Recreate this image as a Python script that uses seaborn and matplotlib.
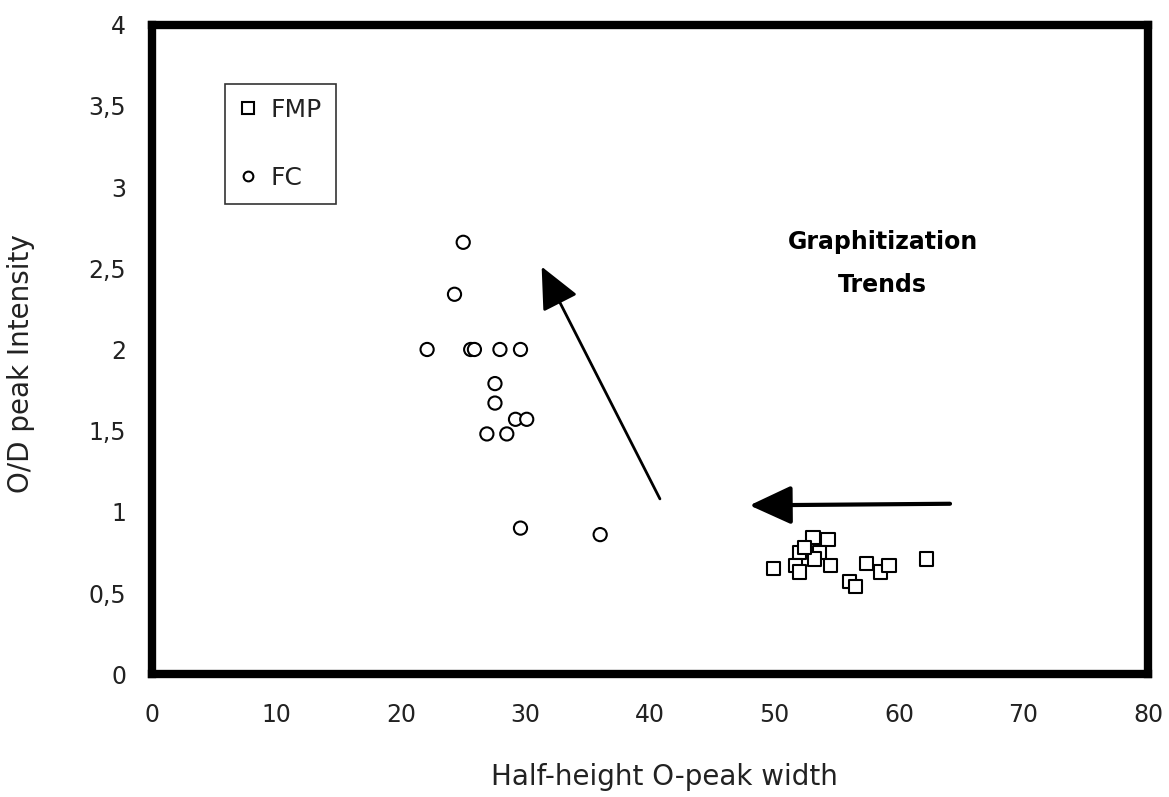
import numpy as np
import pandas as pd
import matplotlib
matplotlib.use("Agg")
import matplotlib.pyplot as plt
import seaborn as sns
from matplotlib.ticker import FixedLocator, FixedFormatter
from matplotlib.lines import Line2D

# FC samples (circles)
fc_width = [25.0, 24.3, 22.1, 25.6, 25.9, 27.95, 29.6, 27.55, 27.55, 29.2, 30.1, 26.9, 28.5, 29.6, 36.0]
fc_ratio = [2.66, 2.34, 2.00, 2.00, 2.00, 2.00, 2.00, 1.79, 1.67, 1.57, 1.57, 1.48, 1.48, 0.90, 0.86]

# FMP samples (squares)
fmp_width = [49.9, 53.1, 54.3, 52.0, 53.65, 53.2, 51.7, 52.0, 54.5, 57.4, 58.5, 59.2, 56.0, 56.5, 62.2, 52.4]
fmp_ratio = [0.65, 0.84, 0.83, 0.75, 0.75, 0.71, 0.67, 0.63, 0.67, 0.68, 0.63, 0.67, 0.57, 0.54, 0.71, 0.78]

x_ticks = [0, 10, 20, 30, 40, 50, 60, 70, 80]
x_tick_labels = ["0", "10", "20", "30", "40", "50", "60", "70", "80"]
y_ticks = [0, 0.5, 1, 1.5, 2, 2.5, 3, 3.5, 4]
y_tick_labels = ["0", "0,5", "1", "1,5", "2", "2,5", "3", "3,5", "4"]

df = pd.DataFrame({
    "width": fmp_width + fc_width,
    "ratio": fmp_ratio + fc_ratio,
    "group": ["FMP"] * len(fmp_width) + ["FC"] * len(fc_width),
})

sns.set_theme(style="white")
plt.rcParams["font.family"] = ["DejaVu Sans"]

fig = plt.figure(figsize=(11.69, 7.97), dpi=100)
ax = fig.add_axes([0.130, 0.154, 0.852, 0.815])

sns.scatterplot(
    data=df, x="width", y="ratio", hue="group", style="group",
    markers={"FMP": "s", "FC": "o"},
    palette={"FMP": "white", "FC": "white"},
    edgecolor="black", linewidth=1.5, s=90, ax=ax, legend=False,
)

ax.set_xlim(0, 80)
ax.set_ylim(0, 4)
ax.xaxis.set_major_locator(FixedLocator(x_ticks))
ax.xaxis.set_major_formatter(FixedFormatter(x_tick_labels))
ax.yaxis.set_major_locator(FixedLocator(y_ticks))
ax.yaxis.set_major_formatter(FixedFormatter(y_tick_labels))

for sp in ax.spines.values():
    sp.set_visible(True)
    sp.set_color("black")
    sp.set_linewidth(6)

ax.tick_params(axis="both", direction="inout", length=9, width=1.2, color="black",
               labelsize=17, labelcolor="#222222", pad=14)
ax.tick_params(axis="x", pad=16)

ax.set_xlabel("Half-height O-peak width", fontsize=20, color="#222222")
ax.set_ylabel("O/D peak Intensity", fontsize=20, color="#222222")
ax.xaxis.set_label_coords(0.515, -0.137)
ax.yaxis.set_label_coords(-0.117, 0.478)

# Graphitization trend arrows
ax.annotate("", xy=(31.3, 2.51), xytext=(40.8, 1.08),
            arrowprops=dict(arrowstyle="-|>,head_length=1.3,head_width=0.6",
                            mutation_scale=20, color="black", lw=2.0,
                            shrinkA=0, shrinkB=0))
ax.annotate("", xy=(48.0, 1.04), xytext=(64.1, 1.05),
            arrowprops=dict(arrowstyle="-|>,head_length=1.3,head_width=0.6",
                            mutation_scale=20, color="black", lw=3.0,
                            shrinkA=0, shrinkB=0))

ax.text(58.7, 2.66, "Graphitization", ha="center", va="center",
        fontsize=17, fontweight="bold", color="black")
ax.text(58.7, 2.40, "Trends", ha="center", va="center",
        fontsize=17, fontweight="bold", color="black")

# Legend
handles = [
    Line2D([], [], marker="s", linestyle="none", markersize=8,
           markerfacecolor="white", markeredgecolor="black", markeredgewidth=1.5),
    Line2D([], [], marker="o", linestyle="none", markersize=7,
           markerfacecolor="white", markeredgecolor="black", markeredgewidth=1.5),
]
leg = ax.legend(handles, ["FMP", "FC"], loc="upper left",
                bbox_to_anchor=(0.073, 0.908), borderaxespad=0,
                frameon=True, fancybox=False, edgecolor="black",
                fontsize=18, labelspacing=1.75, handletextpad=0.5,
                handlelength=0.8, borderpad=0.55, labelcolor="#222222")
leg.get_frame().set_linewidth(1.2)

fig.savefig("out.png", dpi=100, facecolor="white")
